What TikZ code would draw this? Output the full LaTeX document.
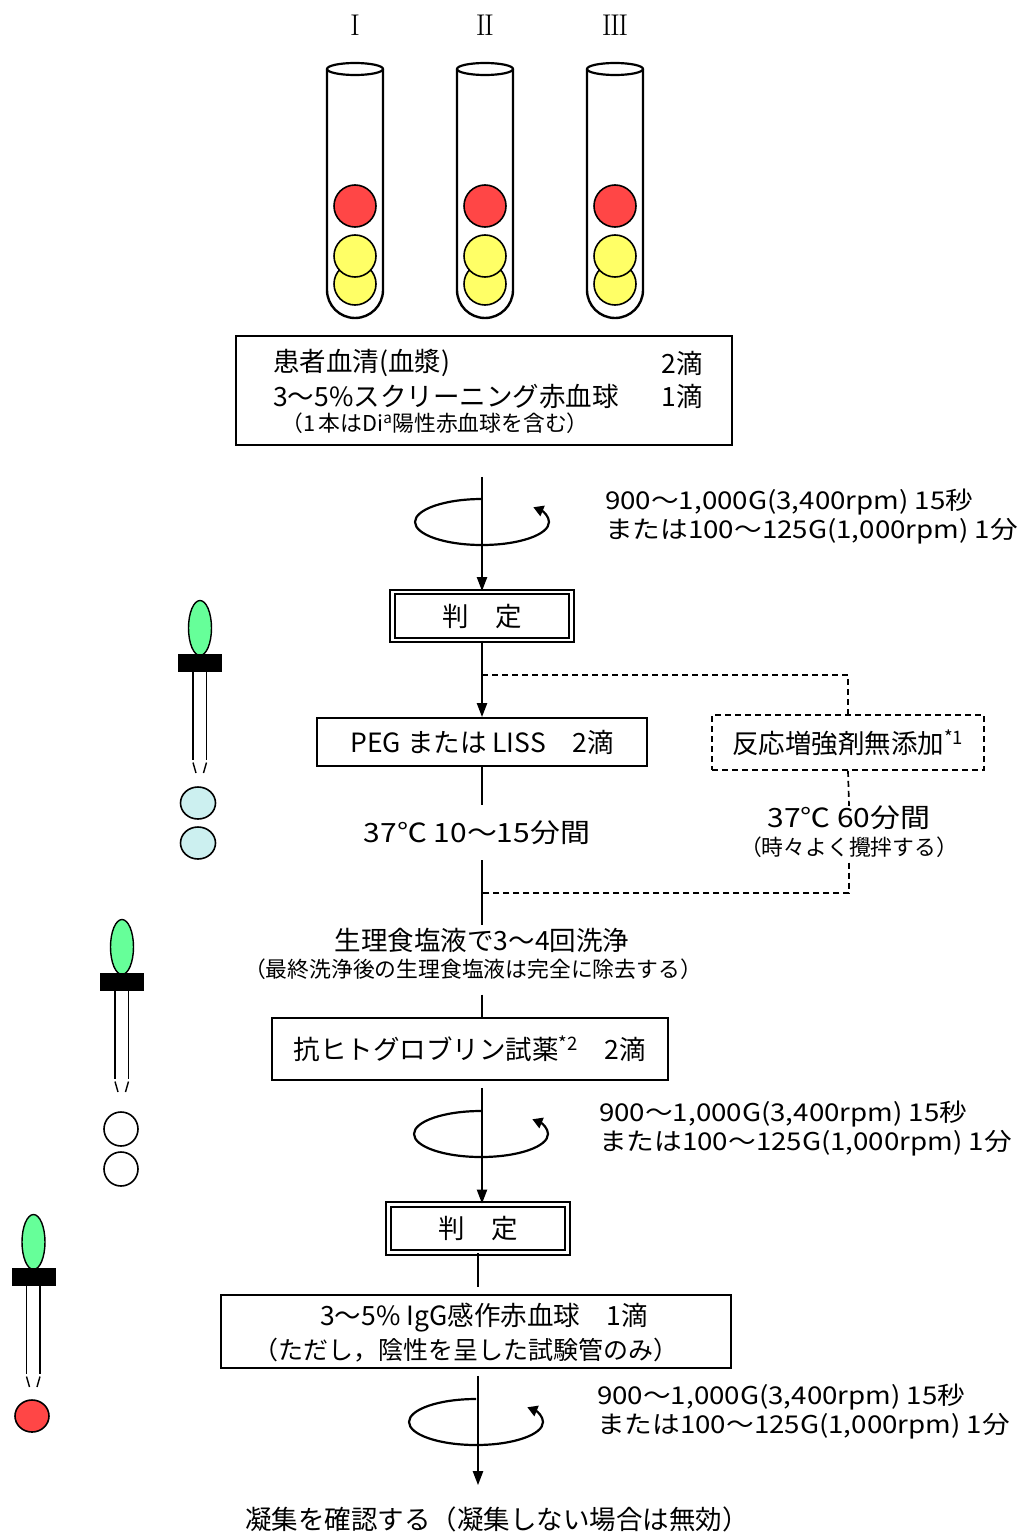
\documentclass[tikz,border=0pt]{standalone}
\usepackage{fontspec}
\newfontfamily\jpfont{Noto Sans CJK JP}
\newfontfamily\jpwide[FakeStretch=1.13]{Noto Sans CJK JP}
\usetikzlibrary{arrows.meta,positioning}

\definecolor{ballred}{HTML}{FF4646}
\definecolor{ballyellow}{HTML}{FFFF66}
\definecolor{bulbgreen}{HTML}{66FF99}
\definecolor{dropcyan}{HTML}{CCF0F0}

\tikzset{
  big/.style={font=\jpfont\fontsize{26.5}{30}\selectfont, inner sep=0pt},
  wide/.style={font=\jpwide\fontsize{26.5}{30}\selectfont, inner sep=0pt},
  rpm/.style={font=\jpwide\fontsize{24.5}{28}\selectfont, inner sep=0pt},
  note/.style={font=\jpfont\fontsize{25}{28}\selectfont, inner sep=0pt},
  small/.style={font=\jpfont\fontsize{21.8}{24}\selectfont, inner sep=0pt},
  roman/.style={font=\fontsize{30}{30}\selectfont, inner sep=0pt},
  box/.style={draw, line width=1.8pt, inner sep=0pt},
  nbox/.style={box, dash pattern=on 6pt off 4pt},
  judgebox/.style={draw, double, line width=1.8pt, double distance=2.6pt,
    minimum width=179pt, minimum height=48pt, big},
  flow/.style={line width=2.2pt},
  flowarr/.style={flow, -{Triangle[width=10pt,length=14pt]}},
  branch/.style={line width=1.7pt, dash pattern=on 6pt off 4pt},
  ball/.style={draw, line width=1.6pt, circle, minimum size=42pt, inner sep=0pt},
  spin/.pic={
    \draw[line width=2.2pt, -{Triangle[width=11pt,length=10pt]}]
      (90:67 and 23) arc[start angle=90, end angle=400, x radius=67, y radius=23];
  },
  dropper/.pic={
    \draw[line width=1.4pt, fill=bulbgreen] (0,27) ellipse [x radius=11.5, y radius=27.5];
    \fill (-22,1) rectangle (22,-16.5);
    \draw[line width=1.8pt] (-7,-16) -- (-7,-105) (6.5,-16) -- (6.5,-105);
    \draw[line width=1.4pt] (-7,-107.5) -- (-4,-118) (6.5,-107.5) -- (3.5,-118);
  }
}

\begin{document}
\begin{tikzpicture}[x=1pt,y=1pt]
    \useasboundingbox[fill=white] (0,0) rectangle (1019,-1533);

    \foreach \cx/\num/\lab in {355/{I}/i, 485/{I\kern-1.6pt I}/ii, 615/{I\kern-1.6pt I\kern-1.6pt I}/iii} {
        \node[roman] (num\lab) at (\cx,-25) {\num};
        \draw[line width=2.4pt] (\cx-28,-69) -- (\cx-28,-290) arc[start angle=180, end angle=360, radius=28] -- (\cx+28,-69);
        \draw[line width=2.2pt] (\cx,-69) ellipse [x radius=28, y radius=6];
        \node[ball, fill=ballyellow] (low\lab) at (\cx,-284) {};
        \node[ball, fill=ballyellow] (mid\lab) at (\cx,-256) {};
        \node[ball, fill=ballred] (top\lab) at (\cx,-206) {};
    }

    \node[box, minimum width=496pt, minimum height=109pt] (sample) at (484,-390.5) {};
    \node[big, anchor=west] (serum) at (273,-363) {患者血清(血漿)};
    \node[big, anchor=east] (serumdrop) at (703,-363) {2滴};
    \node[big, anchor=west] (cells) at (273,-396) {3～5\%スクリーニング赤血球};
    \node[big, anchor=east] (cellsdrop) at (703,-396) {1滴};
    \node[small, anchor=west] (cellsnote) at (281,-423) {（1\,本はDi\textsuperscript{a}陽性赤血球を含む）};

    \coordinate (axisA) at (482,-522);
    \coordinate (axisB) at (482,-1134);
    \coordinate (axisC) at (478,-1422);

    \node[judgebox] (judge1) at (482,-616) {判　定};
    \node[box, big, minimum width=330pt, minimum height=48pt] (peg) at (482,-742) {PEG または LISS　2滴};
    \node[nbox, big, minimum width=272pt, minimum height=55pt] (nadd) at (848,-742.5) {反応増強剤無添加\textsuperscript{*1}};
    \node[wide, minimum height=55pt] (t37) at (477,-832.5) {37℃ 10～15分間};
    \node[wide] (t60) at (849,-818) {37℃ 60分間};
    \node[small] (t60note) at (849,-847) {（時々よく攪拌する）};
    \node[big] (wash) at (482,-940) {生理食塩液で3～4回洗浄};
    \node[small] (washnote) at (473,-969) {（最終洗浄後の生理食塩液は完全に除去する）};
    \node[box, big, minimum width=396pt, minimum height=62pt] (anti) at (470,-1049) {抗ヒトグロブリン試薬\textsuperscript{*2}　2滴};
    \node[judgebox] (judge2) at (478,-1228.5) {判　定};
    \node[box, minimum width=510pt, minimum height=73pt] (igg) at (476,-1331.5) {};
    \node[big] (iggtext) at (484,-1318) {3～5\% IgG感作赤血球　1滴};
    \node[note] (iggnote) at (466,-1350) {（ただし，陰性を呈した試験管のみ）};
    \node[big] (result) at (497,-1519) {凝集を確認する（凝集しない場合は無効）};

    \pic at (axisA) {spin};
    \pic at (481,-1134) {spin};
    \pic at (476,-1422) {spin};
    \foreach \ax/\ay/\lab in {605/502/A, 599/1114/B, 597/1397/C} {
        \node[rpm, anchor=west] (rpm\lab) at (\ax,-\ay) {900～1,000G(3,400rpm) 15秒};
        \node[rpm, anchor=west] (min\lab) at (\ax,-\ay-29) {または100～125G(1,000rpm) 1分};
    }

    \draw[flowarr, shorten <=31pt] (axisA |- sample.south) -- (axisA |- judge1.north);
    \draw[flowarr] (judge1) -- (peg);
    \coordinate (fork) at (482,-675);
    \coordinate (merge) at (482,-893);
    \draw[branch] (fork) -| (nadd.north);
    \draw[branch] (nadd.south) -- (t60.north);
    \draw[branch, shorten <=5pt] (t60note.south) |- (merge);
    \draw[flow] (peg.south) -- (peg.south |- t37.north);
    \draw[flow] (wash.north |- t37.south) -- ++(0,-65);
    \draw[flow, shorten <=15pt] (wash.south |- washnote.south) -- (wash.south |- anti.north);
    \draw[flowarr, shorten <=7pt] (axisB |- anti.south) -- (axisB |- judge2.north);
    \draw[flow, shorten >=7pt] (judge2.south) -- (judge2.south |- igg.north);
    \draw[flowarr, shorten <=7pt, shorten >=21pt] (axisC |- igg.south) -- (axisC |- result.north);

    \pic at (200,-655) {dropper};
    \pic at (122,-974) {dropper};
    \pic at (33.5,-1269) {dropper};
    \draw[line width=1.6pt, fill=dropcyan] (198,-803) ellipse [x radius=17.5, y radius=16];
    \draw[line width=1.6pt, fill=dropcyan] (198,-843) ellipse [x radius=17.5, y radius=16];
    \draw[line width=1.6pt, fill=white] (121,-1129) circle [radius=17];
    \draw[line width=1.6pt, fill=white] (121,-1169) circle [radius=17];
    \draw[line width=1.6pt, fill=ballred] (32,-1416) ellipse [x radius=17, y radius=16];
\end{tikzpicture}
\end{document}
